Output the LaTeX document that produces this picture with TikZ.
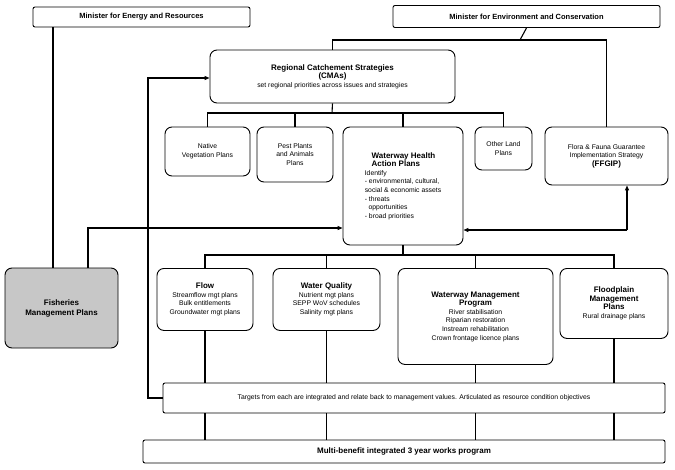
\documentclass[tikz,border=0pt]{standalone}
\usepackage{fontspec}
\setmainfont{Liberation Sans}
\usetikzlibrary{arrows.meta}
\newcommand{\hd}[1]{{\bfseries\fontsize{8}{10}\selectfont #1}}
\begin{document}
\begin{tikzpicture}[x=1pt,y=-1pt,
  box/.style={draw,line width=0.9pt,rounded corners=2pt,align=center,font=\fontsize{6.8}{8.6}\selectfont,inner sep=1pt},
  rbox/.style={box,rounded corners=7pt},
  ln/.style={line width=1.1pt},
  ar/.style={ln,-{Triangle[length=5pt,width=4pt]}}]
\useasboundingbox (0,0) rectangle (675,469);
\node[box,minimum width=217pt,minimum height=20pt,font=\bfseries\fontsize{7.5}{9}\selectfont] (mer) at (141.5,17) {Minister for Energy and Resources};
\node[box,minimum width=267pt,minimum height=22pt,font=\bfseries\fontsize{7.5}{9}\selectfont] (mec) at (526.5,16.5) {Minister for Environment and Conservation};
\node[rbox,minimum width=245pt,minimum height=53pt] (rcs) at (332.5,76.5) {\hd{Regional Catchement Strategies}\\\hd{(CMAs)}\\set regional priorities across issues and strategies};
\node[rbox,minimum width=85pt,minimum height=49pt] (nv) at (207.5,151.5) {Native\\Vegetation Plans};
\node[rbox,minimum width=76pt,minimum height=55pt] (pp) at (295,154.5) {Pest Plants\\and Animals\\Plans};
\node[rbox,minimum width=120pt,minimum height=118pt,align=left] (wh) at (403,186) {\quad\hd{Waterway Health}\\\quad\hd{Action Plans}\\Identify\\- environmental, cultural,\\social \& economic assets\\- threats\\\ \ opportunities\\- broad priorities};
\node[rbox,minimum width=57pt,minimum height=43pt] (ol) at (503.5,148.5) {Other Land\\Plans};
\node[rbox,minimum width=123pt,minimum height=58pt] (ff) at (606.5,156) {Flora \& Fauna Guarantee\\Implementation Strategy\\\hd{(FFGIP)}};
\node[rbox,fill=black!22,minimum width=113pt,minimum height=80pt,font=\bfseries\fontsize{8}{10}\selectfont] (fi) at (61.5,308) {Fisheries\\Management Plans};
\node[rbox,minimum width=96pt,minimum height=62pt,anchor=north] (fl) at (205,268) {\hd{Flow}\\Streamflow mgt plans\\Bulk entitlements\\Groundwater mgt plans};
\node[rbox,minimum width=107pt,minimum height=62pt,anchor=north] (wq) at (326.5,268) {\hd{Water Quality}\\Nutrient mgt plans\\SEPP WoV schedules\\Salinity mgt plans};
\node[rbox,minimum width=155pt,minimum height=96pt,anchor=north] (wm) at (475.5,268) {\hd{Waterway Management}\\\hd{Program}\\River stabilisation\\Riparian restoration\\Instream rehabilitation\\Crown frontage licence plans};
\node[rbox,minimum width=108pt,minimum height=70pt,anchor=north] (fp) at (614,268) {\hd{Floodplain}\\\hd{Management}\\\hd{Plans}\\Rural drainage plans};
\node[box,minimum width=502pt,minimum height=30pt] (tg) at (414,398) {Targets from each are integrated and relate back to management values. Articulated as resource condition objectives};
\node[box,minimum width=522pt,minimum height=23pt,font=\bfseries\fontsize{8}{10}\selectfont] (mb) at (404,451.5) {Multi-benefit integrated 3 year works program};
% top connectors
\draw[ln] (mec.south) -- (520,40);
\draw[ln] (rcs.north) |- (520,40) -| (ff.north);
\draw[ln] (rcs.south) -- (332,113);
\draw[ln] (nv.north) |- (332,113) -| (ol.north);
\draw[ln] (pp.north) -- (295,113);
\draw[ln] (wh.north) -- (403,113);
% fisheries
\draw[ln] (53,27) -- (53,268);
\coordinate (fk) at (88,228);
\draw[ar] (88,268) -- (fk) -- (wh.west|-fk);
\coordinate (fr) at (627,230);
\draw[ar] (fr) -- (wh.east|-fr);
\draw[ar] (fr) -- (fr|-ff.south);
% bottom tree
\draw[ln] (wh.south) -- (403,255);
\draw[ln] (fl.north) |- (403,255) -| (fp.north);
\draw[ln] (wq.north) -- (326.5,255);
\draw[ln] (wm.north) -- (475.5,255);
\foreach \n/\x in {fl/205,wq/326.5,wm/475.5,fp/614}{
  \draw[ln] (\n.south) -- (\x,383);
  \draw[ln] (\x,413) -- (\x,440);
}
% feedback
\draw[ar] (tg.west) -- (148,398) -- (148,78) -- (rcs.west|-0,78);
\end{tikzpicture}
\end{document}
